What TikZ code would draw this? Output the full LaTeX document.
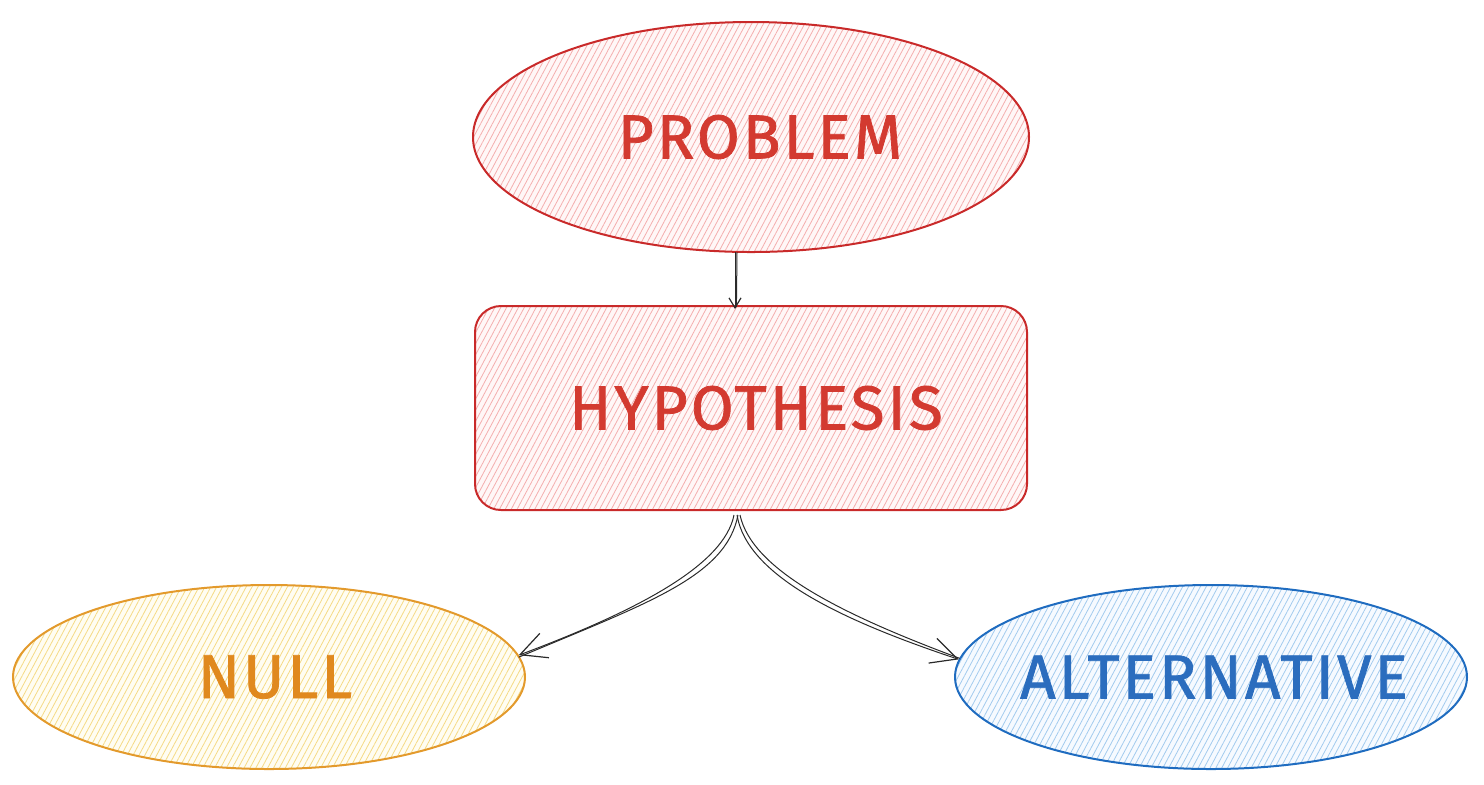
\documentclass[tikz,border=0pt]{standalone}
\usepackage{fontspec}
\setsansfont{Fira Sans}
\newfontfamily\handfont[LetterSpace=5,FakeBold=1.3]{Fira Sans}
\usetikzlibrary{shapes.geometric,patterns.meta,arrows.meta}
\definecolor{rstroke}{HTML}{C92A2A}
\definecolor{rtext}{HTML}{D33A30}
\definecolor{rhatch}{HTML}{F4AEAE}
\definecolor{rfill}{HTML}{FFF7F7}
\definecolor{ostroke}{HTML}{E39A2C}
\definecolor{otext}{HTML}{E0891E}
\definecolor{ohatch}{HTML}{F5DA85}
\definecolor{ofill}{HTML}{FFFDF2}
\definecolor{bstroke}{HTML}{1F6CC0}
\definecolor{btext}{HTML}{2B6DBE}
\definecolor{bhatch}{HTML}{A3CBEE}
\definecolor{bfill}{HTML}{F6FAFF}
\definecolor{ink}{HTML}{2A2A2A}
\tikzset{
  shapebox/.style={line width=1pt, inner sep=0pt, font=\handfont\fontsize{31}{38}\selectfont},
  hatch/.style={pattern={Lines[angle=62,distance=2.6pt,line width=0.4pt]}},
  redshape/.style={shapebox, draw=rstroke, text=rtext, preaction={fill=rfill}, hatch, pattern color=rhatch},
  orangeshape/.style={shapebox, draw=ostroke, text=otext, preaction={fill=ofill}, hatch, pattern color=ohatch},
  blueshape/.style={shapebox, draw=bstroke, text=btext, preaction={fill=bfill}, hatch, pattern color=bhatch},
  oval/.style={ellipse},
  conn/.style={draw=ink, line width=0.5pt},
  bighead/.style={-{Straight Barb[length=13pt,width=13pt,line width=0.6pt]}},
  smallhead/.style={-{Straight Barb[length=5pt,width=6pt,line width=0.6pt]}}
}
\newcommand{\zbox}[1]{\makebox[0pt][c]{#1}}
\begin{document}
\begin{tikzpicture}[x=0.5pt,y=-0.5pt]
\useasboundingbox (0,0) rectangle (1484,784);
\node[redshape, oval, minimum width=278pt, minimum height=115pt] (p) at (751,137) {\zbox{\hspace*{9pt}PROBLEM}};
\node[redshape, rectangle, rounded corners=13pt, minimum width=276pt, minimum height=102pt] (h) at (751,408) {\zbox{\hspace*{5pt}HYPOTHESIS}};
\node[orangeshape, oval, minimum width=256pt, minimum height=92pt] (n) at (269,677) {\zbox{\hspace*{6pt}NULL}};
\node[blueshape, oval, minimum width=256pt, minimum height=92pt] (a) at (1211,677) {\zbox{\hspace*{3pt}ALTERNATIVE}};
% problem -> hypothesis
\draw[conn, smallhead] ([xshift=-8pt]p.south) -- ([xshift=-8pt,yshift=-2pt]h.north);
\draw[conn] ([xshift=-7pt]p.south) -- ([xshift=-7.3pt,yshift=-1pt]h.north);
% hypothesis -> null
\draw[conn, bighead] ([xshift=-8.5pt,yshift=-2pt]h.south) .. controls +(-10,50) and +(120,-45) .. (n.5);
\draw[conn] ([xshift=-6.5pt,yshift=-2pt]h.south) .. controls +(-12,62) and +(128,-54) .. ([yshift=-1pt]n.5);
% hypothesis -> alternative
\draw[conn, bighead] ([xshift=-7pt,yshift=-2pt]h.south) .. controls +(10,60) and +(-120,-40) .. (a.176);
\draw[conn] ([xshift=-5.5pt,yshift=-2pt]h.south) .. controls +(12,55) and +(-118,-44) .. ([xshift=0.5pt,yshift=0.5pt]a.176);
\end{tikzpicture}
\end{document}
